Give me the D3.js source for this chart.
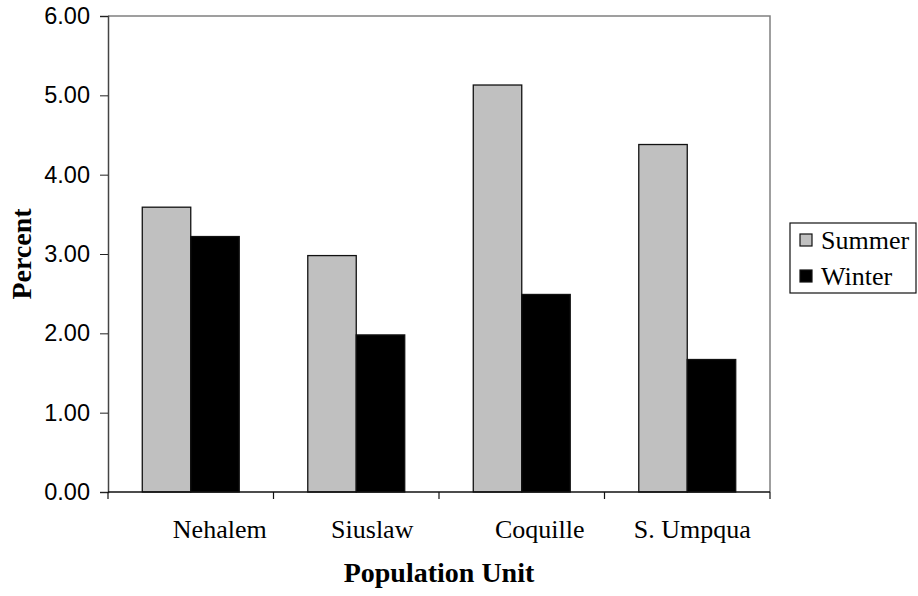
<!DOCTYPE html>
<html><head><meta charset="utf-8">
<script src="https://cdn.jsdelivr.net/npm/d3@7/dist/d3.min.js"></script>
<style>body{margin:0;background:#fff}svg{display:block}</style>
</head><body>
<svg id="c" width="918" height="596"></svg>
<script>
const categories = ["Nehalem", "Siuslaw", "Coquille", "S. Umpqua"];
const seriesNames = ["Summer", "Winter"];
const summer = [3.59, 2.98, 5.13, 4.38];
const winter = [3.22, 1.98, 2.49, 1.67];
const yTicks = [0, 1, 2, 3, 4, 5, 6];
const colors = {Summer: "#c0c0c0", Winter: "#000000"};

const svg = d3.select("#c");
const L = 108, R = 770, T = 16, B = 492;
const labelDx = [29, 16, 18, 5]; // label shifts as rendered in the source
const x = d3.scaleBand().domain(categories).range([L, R]).paddingInner(0).paddingOuter(0);
const x1 = d3.scaleBand().domain(seriesNames).range([0, x.bandwidth()]).paddingInner(0).paddingOuter(0.707);
const y = d3.scaleLinear().domain([0, 6]).range([B, T]);

// plot frame (top/right gray)
svg.append("path").attr("d", `M${L},${T}H${R}V${B}`).attr("fill","none").attr("stroke","#808080").attr("stroke-width",1.5);

// bars
const data = categories.map((c,i)=>({c, vals:[{s:"Summer",v:summer[i]},{s:"Winter",v:winter[i]}]}));
const g = svg.append("g");
data.forEach(d=>{
  d.vals.forEach(e=>{
    g.append("rect")
      .attr("x", x(d.c)+x1(e.s))
      .attr("y", y(e.v))
      .attr("width", x1.bandwidth())
      .attr("height", B - y(e.v))
      .attr("fill", colors[e.s])
      .attr("stroke", "#111")
      .attr("stroke-width", 1.3);
  });
});

// y axis
const yAxis = d3.axisLeft(y).tickValues(yTicks).tickFormat(d3.format(".2f")).tickSize(8).tickPadding(10);
const ya = svg.append("g").attr("transform",`translate(${L},0)`).call(yAxis);
ya.select(".domain").attr("stroke","#444").attr("stroke-width",1.5);
ya.selectAll(".tick line").attr("stroke","#222");
ya.selectAll("text").attr("font-family","'Liberation Sans', Arial, sans-serif").attr("font-size",23.5).attr("fill","#000");

// x axis with ticks at category boundaries
const xa = svg.append("g").attr("transform",`translate(0,${B})`);
xa.append("line").attr("x1",L).attr("x2",R).attr("y1",0).attr("y2",0).attr("stroke","#111").attr("stroke-width",1.3);
const bounds = categories.map(c=>x(c)).concat([R]);
xa.selectAll("line.tk").data(bounds).enter().append("line").attr("class","tk")
  .attr("x1",d=>d).attr("x2",d=>d).attr("y1",0).attr("y2",7).attr("stroke","#111").attr("stroke-width",1.2);
xa.selectAll("text.cat").data(categories).enter().append("text").attr("class","cat")
  .attr("x",(d,i)=>x(d)+x.bandwidth()/2+labelDx[i]).attr("y",46)
  .attr("text-anchor","middle")
  .attr("font-family","'Liberation Serif', 'Times New Roman', serif").attr("font-size",26)
  .text(d=>d);

// axis titles
svg.append("text").attr("x",(L+R)/2).attr("y",582).attr("text-anchor","middle")
  .attr("font-family","'Liberation Serif', 'Times New Roman', serif").attr("font-weight","bold").attr("font-size",28)
  .text("Population Unit");
svg.append("text").attr("transform",`translate(31,${(T+B)/2}) rotate(-90)`).attr("text-anchor","middle")
  .attr("font-family","'Liberation Serif', 'Times New Roman', serif").attr("font-weight","bold").attr("font-size",28)
  .text("Percent");

// legend
const lg = svg.append("g");
lg.append("rect").attr("x",790).attr("y",223).attr("width",126).attr("height",70)
  .attr("fill","#fff").attr("stroke","#111").attr("stroke-width",1.2);
seriesNames.forEach((s,i)=>{
  const cy = 240 + i*36;
  lg.append("rect").attr("x",800).attr("y",cy-6).attr("width",12).attr("height",12)
    .attr("fill",colors[s]).attr("stroke","#111").attr("stroke-width",1.2);
  lg.append("text").attr("x",821).attr("y",cy+9)
    .attr("font-family","'Liberation Serif', 'Times New Roman', serif").attr("font-size",26)
    .text(s);
});
</script>
</body></html>
